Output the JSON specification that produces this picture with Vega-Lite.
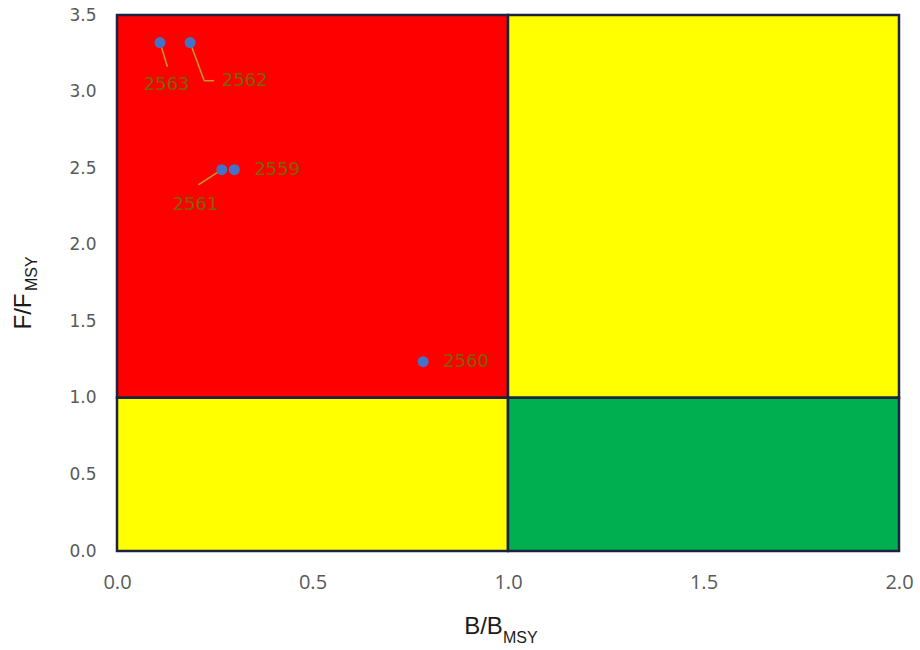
{
  "$schema": "https://vega.github.io/schema/vega-lite/v6.json",
  "width": 782,
  "height": 536,
  "autosize": {"type": "none"},
  "padding": {"left": 117, "top": 15, "right": 21, "bottom": 99},
  "background": "white",
  "config": {"view": {"stroke": null}},
  "datasets": {
    "zones": [
      {"zone": "overfished_overfishing", "b0": 0, "b1": 1, "f0": 1, "f1": 3.5},
      {"zone": "overfishing", "b0": 1, "b1": 2, "f0": 1, "f1": 3.5},
      {"zone": "overfished", "b0": 0, "b1": 1, "f0": 0, "f1": 1},
      {"zone": "healthy", "b0": 1, "b1": 2, "f0": 0, "f1": 1}
    ],
    "points": [
      {"year": "2559", "b": 0.300, "f": 2.49, "lb": 0.410, "lf": 2.488},
      {"year": "2560", "b": 0.783, "f": 1.236, "lb": 0.893, "lf": 1.237},
      {"year": "2561", "b": 0.268, "f": 2.49, "lb": 0.201, "lf": 2.259},
      {"year": "2562", "b": 0.187, "f": 3.32, "lb": 0.327, "lf": 3.066},
      {"year": "2563", "b": 0.110, "f": 3.32, "lb": 0.127, "lf": 3.040}
    ],
    "leaders": [
      {"year": "2563", "b1": 0.110, "f1": 3.32, "b2": 0.129, "f2": 3.162},
      {"year": "2562", "b1": 0.187, "f1": 3.32, "b2": 0.223, "f2": 3.071},
      {"year": "2562", "b1": 0.223, "f1": 3.071, "b2": 0.248, "f2": 3.071},
      {"year": "2561", "b1": 0.268, "f1": 2.49, "b2": 0.208, "f2": 2.390}
    ]
  },
  "layer": [
    {
      "data": {"name": "zones"},
      "mark": {"type": "rect", "stroke": "#1c2340", "strokeWidth": 2.5},
      "encoding": {
        "x": {
          "field": "b0", "type": "quantitative",
          "scale": {"domain": [0, 2], "nice": false, "zero": false},
          "axis": {
            "title": "B/B",
            "values": [0, 0.5, 1, 1.5, 2],
            "format": ".1f",
            "grid": false, "ticks": false, "domain": false,
            "labelFlush": false,
            "labelFont": "Open Sans", "labelFontSize": 20, "labelColor": "#595959",
            "labelPadding": 21,
            "titleFont": "Liberation Sans", "titleFontSize": 24, "titleFontWeight": "normal",
            "titleColor": "#1a1a1a",
            "titleX": 366, "titleY": 82, "titleAlign": "center", "titleBaseline": "alphabetic"
          }
        },
        "x2": {"field": "b1"},
        "y": {
          "field": "f0", "type": "quantitative",
          "scale": {"domain": [0, 3.5], "nice": false, "zero": false},
          "axis": {
            "title": "F/F",
            "values": [0, 0.5, 1, 1.5, 2, 2.5, 3, 3.5],
            "format": ".1f",
            "grid": false, "ticks": false, "domain": false,
            "labelFlush": false,
            "labelFont": "DejaVu Sans", "labelFontSize": 17, "labelColor": "#595959",
            "labelPadding": 21,
            "titleFont": "Liberation Sans", "titleFontSize": 24, "titleFontWeight": "normal",
            "titleColor": "#1a1a1a",
            "titleAngle": 270,
            "titleX": -87, "titleY": 296, "titleAlign": "center", "titleBaseline": "alphabetic"
          }
        },
        "y2": {"field": "f1"},
        "color": {
          "field": "zone", "type": "nominal",
          "scale": {
            "domain": ["overfished_overfishing", "overfishing", "overfished", "healthy"],
            "range": ["#ff0000", "#ffff00", "#ffff00", "#00b050"]
          },
          "legend": null
        }
      }
    },
    {
      "data": {"name": "leaders"},
      "mark": {"type": "rule", "color": "#c49a2c", "strokeWidth": 1.5},
      "encoding": {
        "x": {"field": "b1", "type": "quantitative"},
        "y": {"field": "f1", "type": "quantitative"},
        "x2": {"field": "b2"},
        "y2": {"field": "f2"}
      }
    },
    {
      "data": {"name": "points"},
      "mark": {"type": "circle", "size": 120, "color": "#4472c4", "opacity": 1},
      "encoding": {
        "x": {"field": "b", "type": "quantitative"},
        "y": {"field": "f", "type": "quantitative"}
      }
    },
    {
      "data": {"name": "points"},
      "mark": {"type": "text", "font": "DejaVu Sans", "fontSize": 18, "color": "#806000", "align": "center", "baseline": "middle"},
      "encoding": {
        "x": {"field": "lb", "type": "quantitative"},
        "y": {"field": "lf", "type": "quantitative"},
        "text": {"field": "year"}
      }
    },
    {
      "data": {"values": [{"sub": "MSY"}]},
      "mark": {"type": "text", "font": "Liberation Sans", "fontSize": 16, "color": "#1a1a1a", "align": "left", "baseline": "alphabetic"},
      "encoding": {
        "x": {"datum": 0.987, "type": "quantitative"},
        "y": {"datum": -0.601, "type": "quantitative"},
        "text": {"field": "sub"}
      }
    },
    {
      "data": {"values": [{"sub": "MSY"}]},
      "mark": {"type": "text", "font": "Liberation Sans", "fontSize": 16, "color": "#1a1a1a", "align": "left", "baseline": "alphabetic", "angle": 270},
      "encoding": {
        "x": {"datum": -0.205, "type": "quantitative"},
        "y": {"datum": 1.698, "type": "quantitative"},
        "text": {"field": "sub"}
      }
    }
  ]
}
